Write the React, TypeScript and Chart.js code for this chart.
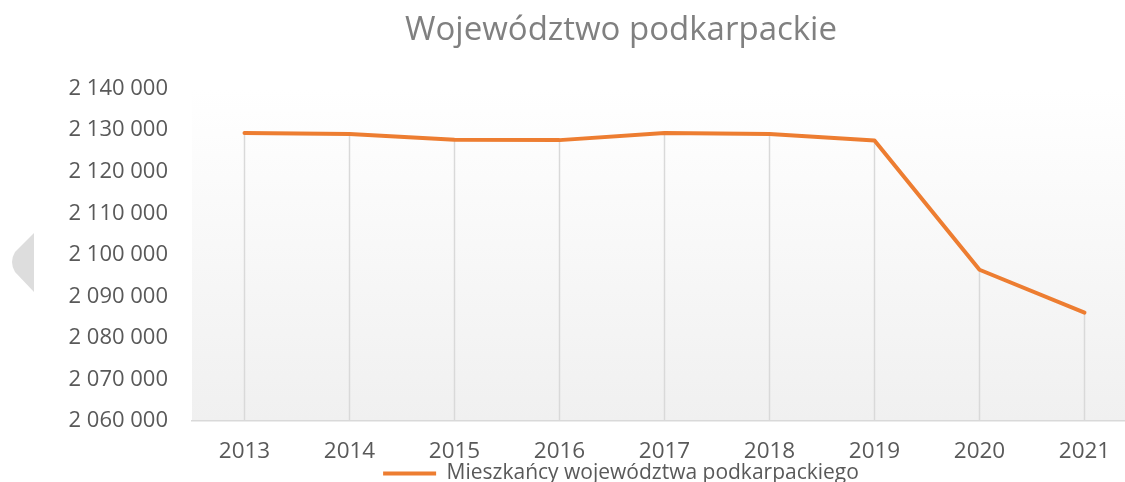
import React, { useEffect, useRef } from "react";
import { Chart, registerables } from "chart.js";

Chart.register(...registerables);

const years = ["2013", "2014", "2015", "2016", "2017", "2018", "2019", "2020", "2021"];
const population = [2129300, 2129100, 2127700, 2127600, 2129300, 2129100, 2127500, 2096400, 2086100];
const yMin = 2060000;
const yMax = 2140000;
const yStep = 10000;
const chartTitle = "Województwo podkarpackie";
const seriesName = "Mieszkańcy województwa podkarpackiego";

const FONT = "'Open Sans', 'DejaVu Sans', sans-serif";
const ORANGE = "#ED7D31";

const fmt = (v: number) => String(Math.round(v)).replace(/\B(?=(\d{3})+(?!\d))/g, " ");

const bgPlugin = {
  id: "plotBg",
  beforeDraw(chart: any) {
    const { ctx, chartArea } = chart;
    if (!chartArea) return;
    const g = ctx.createLinearGradient(0, chartArea.top, 0, chartArea.bottom);
    g.addColorStop(0, "#ffffff");
    g.addColorStop(1, "#f0f0f0");
    ctx.save();
    ctx.fillStyle = g;
    ctx.fillRect(chartArea.left, chartArea.top, chartArea.right - chartArea.left, chartArea.bottom - chartArea.top);
    ctx.restore();
  },
  beforeDatasetsDraw(chart: any) {
    const { ctx, chartArea } = chart;
    const meta = chart.getDatasetMeta(0);
    ctx.save();
    ctx.strokeStyle = "#d9d9d9";
    ctx.lineWidth = 1.5;
    meta.data.forEach((pt: any) => {
      ctx.beginPath();
      ctx.moveTo(pt.x, pt.y);
      ctx.lineTo(pt.x, chartArea.bottom);
      ctx.stroke();
    });
    ctx.restore();
  },
  afterDraw(chart: any) {
    const { ctx } = chart;
    ctx.save();
    ctx.fillStyle = "#dddddd";
    ctx.beginPath();
    ctx.moveTo(34, 233);
    ctx.lineTo(15, 252);
    ctx.quadraticCurveTo(9, 262, 15, 272);
    ctx.lineTo(34, 292);
    ctx.closePath();
    ctx.fill();
    ctx.restore();
  },
};

export default function App() {
  const ref = useRef<HTMLCanvasElement>(null);
  useEffect(() => {
    if (!ref.current) return;
    const chart = new Chart(ref.current, {
      type: "line",
      data: {
        datasets: [
          {
            label: seriesName,
            data: population.map((v, i) => ({ x: i, y: v })),
            borderColor: ORANGE,
            backgroundColor: ORANGE,
            borderWidth: 4,
            pointRadius: 0,
            tension: 0,
            borderCapStyle: "round",
            borderJoinStyle: "round",
          },
        ],
      },
      plugins: [bgPlugin],
      options: {
        animation: false,
        responsive: false,
        devicePixelRatio: 1,
        layout: { padding: 0 },
        plugins: {
          title: {
            display: true,
            text: chartTitle,
            color: "#808080",
            font: { family: FONT, size: 33, weight: "normal" },
            padding: { top: 11, bottom: 38 },
          },
          legend: {
            display: true,
            position: "bottom",
            labels: {
              color: "#595959",
              font: { family: FONT, size: 21 },
              boxWidth: 53,
              boxHeight: 4,
              padding: 4,
              generateLabels: (c: any) =>
                c.data.datasets.map((ds: any, i: number) => ({
                  text: ds.label,
                  fillStyle: ORANGE,
                  strokeStyle: ORANGE,
                  lineWidth: 0,
                  fontColor: "#595959",
                  datasetIndex: i,
                  hidden: false,
                })),
            },
          },
          tooltip: { enabled: false },
        },
        scales: {
          x: {
            type: "linear",
            min: -0.5,
            max: 9.5,
            grid: { display: false, drawTicks: false },
            border: { display: true, color: "#d9d9d9", width: 1.5 },
            afterBuildTicks: (s: any) => {
              s.ticks = years.map((_, i) => ({ value: i }));
            },
            afterFit: (s: any) => {
              s.height = 38;
            },
            ticks: {
              autoSkip: false,
              maxRotation: 0,
              padding: 17,
              color: "#595959",
              font: { family: FONT, size: 22.5 },
              callback: (v: any) => years[v] ?? "",
            },
          },
          y: {
            min: yMin,
            max: yMax,
            grid: { display: false, drawTicks: false },
            border: { display: false },
            afterFit: (s: any) => {
              s.width = 192;
            },
            ticks: {
              stepSize: yStep,
              padding: 24,
              color: "#595959",
              font: { family: FONT, size: 22 },
              callback: (v: any) => fmt(Number(v)),
            },
          },
        },
      },
    } as any);
    return () => chart.destroy();
  }, []);
  return (
    <div style={{ position: "fixed", left: 0, top: 0, width: 1125, height: 482, overflow: "hidden", background: "#fff" }}>
      <canvas ref={ref} width={1242} height={494} style={{ display: "block", width: 1242, height: 494 }} />
    </div>
  );
}
